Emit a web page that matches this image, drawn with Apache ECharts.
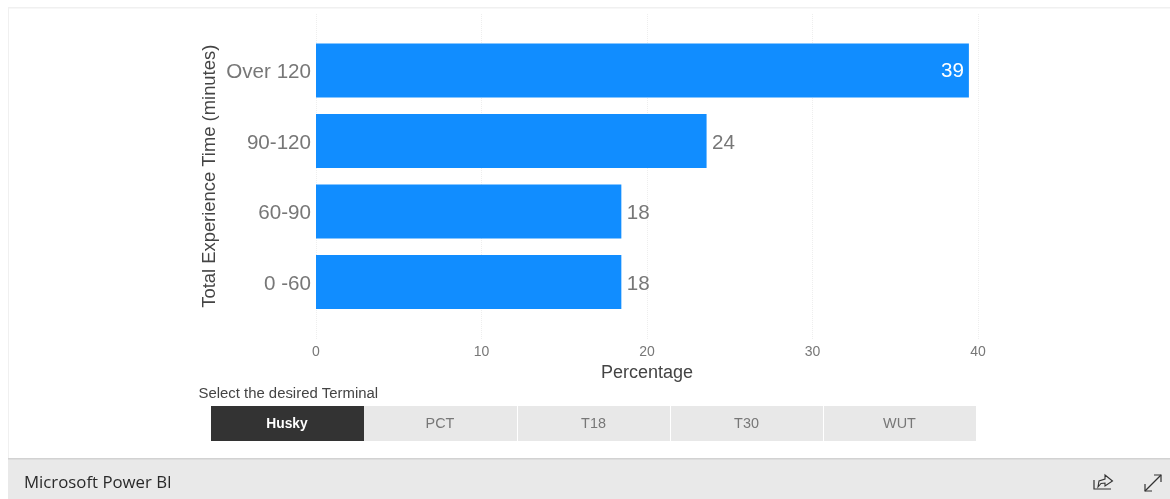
<!DOCTYPE html>
<html><head><meta charset="utf-8">
<style>html,body{margin:0;padding:0;background:#fff}#c{width:1170px;height:499px}</style>
<script src="https://cdn.jsdelivr.net/npm/echarts@6/dist/echarts.min.js"></script>
</head><body><div id="c"></div>
<script>
const categories = ['0 -60', '60-90', '90-120', 'Over 120'];
const values = [18.45, 18.45, 23.6, 39.45];
const valueLabels = ['18', '18', '24', '39'];
const terminals = ['Husky', 'PCT', 'T18', 'T30', 'WUT'];
const sans = '"Liberation Sans", Arial, sans-serif';

const btnX = [211, 364, 518, 671, 824], btnW = [153, 153, 152, 152, 152];
const graphic = [
  {type:'rect', shape:{x:8,y:7,width:1162,height:1.5}, style:{fill:'#f0f0f0'}},
  {type:'rect', shape:{x:8,y:7,width:1,height:452}, style:{fill:'#f0f0f0'}},
  {type:'rect', shape:{x:8,y:459,width:1162,height:40}, style:{fill:'#e9e9e9'}},
  {type:'rect', shape:{x:8,y:458,width:1162,height:1.5}, style:{fill:'#d2d2d2'}},
  {type:'text', style:{x:24,y:483,text:'Microsoft Power BI',font:'16.8px "Open Sans", sans-serif',fill:'#2a2a2a',textVerticalAlign:'middle'}},
  {type:'text', style:{x:198.5,y:394,text:'Select the desired Terminal',font:'14.9px '+sans,fill:'#444',textVerticalAlign:'middle'}},
  {type:'polyline', shape:{points:[[1094,480],[1094,489],[1111,489]]}, style:{stroke:'#333',lineWidth:1.2,fill:null}},
  {type:'polygon', shape:{points:[[1098,487],[1099,481],[1105,479],[1105,475],[1112.5,481],[1105,486],[1105,483],[1101,483.5]]}, style:{stroke:'#333',lineWidth:1.1,fill:null}},
  {type:'line', shape:{x1:1145,y1:491,x2:1161,y2:475}, style:{stroke:'#333',lineWidth:1.2}},
  {type:'polyline', shape:{points:[[1145,484],[1145,491],[1152,491]]}, style:{stroke:'#333',lineWidth:1.2,fill:null}},
  {type:'polyline', shape:{points:[[1154,475],[1161,475],[1161,482]]}, style:{stroke:'#333',lineWidth:1.2,fill:null}}
];
terminals.forEach((t,i)=>{
  graphic.push({type:'rect', shape:{x:btnX[i],y:406,width:btnW[i],height:35}, style:{fill:i===0?'#333333':'#e8e8e8'}});
  graphic.push({type:'text', style:{x:btnX[i]+btnW[i]/2-0.5,y:424.5,text:t,font:(i===0?'bold 13.8px ':'14.4px ')+sans,fill:i===0?'#fff':'#777',textAlign:'center',textVerticalAlign:'middle'}});
});

const chart = echarts.init(document.getElementById('c'), null, {renderer:'canvas'});
chart.setOption({
  animation:false,
  backgroundColor:'#fff',
  graphic:{elements:graphic},
  grid:[
    {left:316,width:662,top:35.25,height:282},
    {left:316,width:662,top:14,height:326}
  ],
  xAxis:[
    {gridIndex:0,type:'value',min:0,max:40,interval:10,
     axisLine:{show:false},axisTick:{show:false},splitLine:{show:false},
     axisLabel:{show:true,margin:28,color:'#777',fontSize:14,fontFamily:sans},
     name:'Percentage',nameLocation:'middle',nameGap:47,nameMoveOverlap:false,
     nameTextStyle:{color:'#444',fontSize:18,fontFamily:sans}},
    {gridIndex:1,type:'value',min:0,max:40,interval:10,z:0,
     axisLine:{show:false},axisTick:{show:false},axisLabel:{show:false},
     splitLine:{show:true,lineStyle:{color:'#eeeeee',type:'dotted',width:1}}}
  ],
  yAxis:[
    {gridIndex:0,type:'category',data:categories,
     axisLine:{show:false},axisTick:{show:false},
     axisLabel:{margin:5,formatter:v=>'{a|'+v+'}',
       rich:{a:{color:'#777',fontSize:20.6,fontFamily:sans,padding:[4,0,0,0]}}},
     name:'Total Experience Time (minutes)',nameLocation:'middle',nameGap:97,nameMoveOverlap:false,
     nameTextStyle:{color:'#444',fontSize:18.4,fontFamily:sans}},
    {gridIndex:1,type:'value',min:0,max:1,show:false,splitLine:{show:false}}
  ],
  series:[
    {type:'bar',xAxisIndex:0,yAxisIndex:0,barWidth:54,z:3,
     data:values.map((v,i)=> v>30 ? {value:v,label:{position:'insideRight',color:'#fff',distance:5,offset:[0,1]}} : v),
     itemStyle:{color:'#118dff'},
     label:{show:true,fontSize:20.6,fontFamily:sans,color:'#777',offset:[0.5,2],
       formatter:p=>valueLabels[p.dataIndex],position:'right',distance:5}}
  ]
});
</script></body></html>
